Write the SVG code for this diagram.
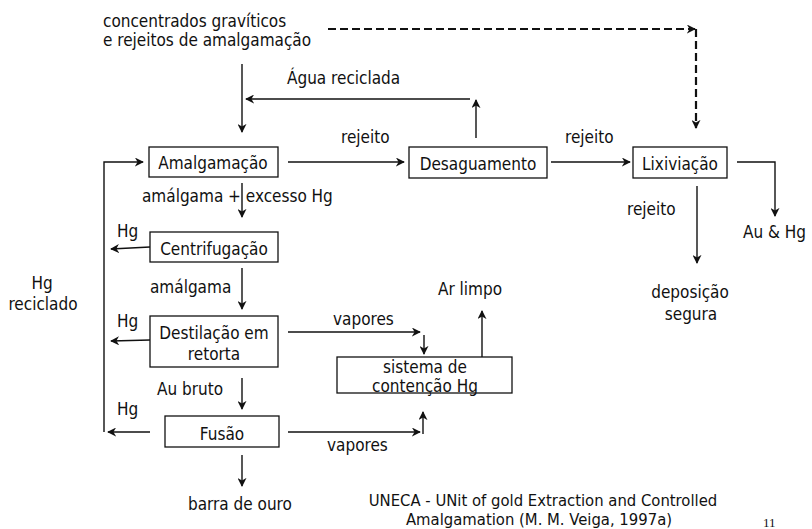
<svg xmlns="http://www.w3.org/2000/svg" width="812" height="529" viewBox="0 0 812 529">
<style>
text{font-family:"DejaVu Sans Condensed","DejaVu Sans",sans-serif;font-size:17px;fill:#111}
.c{text-anchor:middle}
.cap{font-size:16.5px}
.box{fill:#fff;stroke:#111;stroke-width:1.3}
.ln{fill:none;stroke:#111;stroke-width:1.4}
.ar{marker-end:url(#ah)}
.dash{fill:none;stroke:#111;stroke-width:2.2;stroke-dasharray:8 4;marker-end:url(#ah)}
.pg{font-family:"Liberation Serif",serif;font-size:13px}
</style>
<defs>
<marker id="ah" viewBox="0 0 10 10" refX="9" refY="5" markerWidth="9" markerHeight="9" markerUnits="userSpaceOnUse" orient="auto">
<path d="M0,0 L10,5 L0,10 L3,5 z" fill="#111"/>
</marker>
</defs>
<g id="connectors">
<path class="dash" d="M328,29 H695"/>
<path class="dash" d="M696,29 V128"/>
<path class="ln ar" d="M242,64 V132"/>
<path class="ln ar" d="M470,99 H246"/>
<path class="ln ar" d="M476,138 V100"/>
<path class="ln ar" d="M288,162 H404"/>
<path class="ln ar" d="M551,162 H630"/>
<path class="ln ar" d="M737,162 H775 V216"/>
<path class="ln ar" d="M697,186 V263"/>
<path class="ln ar" d="M104,432 V162 H143"/>
<path class="ln ar" d="M242,183 V217"/>
<path class="ln ar" d="M150,247 L111,249"/>
<path class="ln ar" d="M242,268 V309"/>
<path class="ln ar" d="M150,340 L111,341"/>
<path class="ln ar" d="M288,332 H420"/>
<path class="ln ar" d="M424,335 V354"/>
<path class="ln ar" d="M482,357 V311"/>
<path class="ln ar" d="M242,378 V409"/>
<path class="ln ar" d="M150,432 H108"/>
<path class="ln ar" d="M288,432 H420"/>
<path class="ln ar" d="M423,434 V412"/>
<path class="ln ar" d="M242,455 V486"/>
</g>
<g id="source">
<text x="103" y="27">concentrados gravíticos</text>
<text x="103" y="46">e rejeitos de amalgamação</text>
</g>
<g id="amalgamacao">
<rect class="box" x="149" y="147" width="129" height="30"/>
<text class="c" x="213" y="169">Amalgamação</text>
</g>
<g id="desaguamento">
<rect class="box" x="409" y="147" width="138" height="31"/>
<text class="c" x="478" y="170">Desaguamento</text>
</g>
<g id="lixiviacao">
<rect class="box" x="633" y="147" width="94" height="31"/>
<text class="c" x="680" y="170">Lixiviação</text>
</g>
<g id="centrifugacao">
<rect class="box" x="150" y="232" width="128" height="30"/>
<text class="c" x="214" y="255">Centrifugação</text>
</g>
<g id="destilacao">
<rect class="box" x="150" y="316" width="128" height="51"/>
<text class="c" x="214" y="339">Destilação em</text>
<text class="c" x="214" y="360">retorta</text>
</g>
<g id="contencao">
<rect class="box" x="337" y="357" width="175" height="36"/>
<text class="c" x="425" y="373">sistema de</text>
<text class="c" x="425" y="392">contenção Hg</text>
</g>
<g id="fusao">
<rect class="box" x="165" y="416" width="114" height="31"/>
<text class="c" x="222" y="440">Fusão</text>
</g>
<g id="labels">
<text x="287" y="84">Água reciclada</text>
<text x="341" y="143">rejeito</text>
<text x="565" y="143">rejeito</text>
<text x="142" y="202">amálgama + excesso Hg</text>
<text x="117" y="237">Hg</text>
<text x="627" y="215">rejeito</text>
<text x="743" y="238">Au &amp; Hg</text>
<text class="c" x="42" y="289">Hg</text>
<text class="c" x="43" y="310">reciclado</text>
<text x="150" y="293">amálgama</text>
<text x="438" y="295">Ar limpo</text>
<text class="c" x="690" y="298">deposição</text>
<text class="c" x="691" y="320">segura</text>
<text x="117" y="327">Hg</text>
<text x="333" y="325">vapores</text>
<text x="157" y="395">Au bruto</text>
<text x="117" y="415">Hg</text>
<text x="327" y="451">vapores</text>
<text x="188" y="510">barra de ouro</text>
<text class="c cap" x="543" y="506">UNECA - UNit of gold Extraction and Controlled</text>
<text class="c cap" x="539" y="525">Amalgamation (M. M. Veiga, 1997a)</text>
<text class="pg" x="763" y="527">11</text>
</g>
</svg>
